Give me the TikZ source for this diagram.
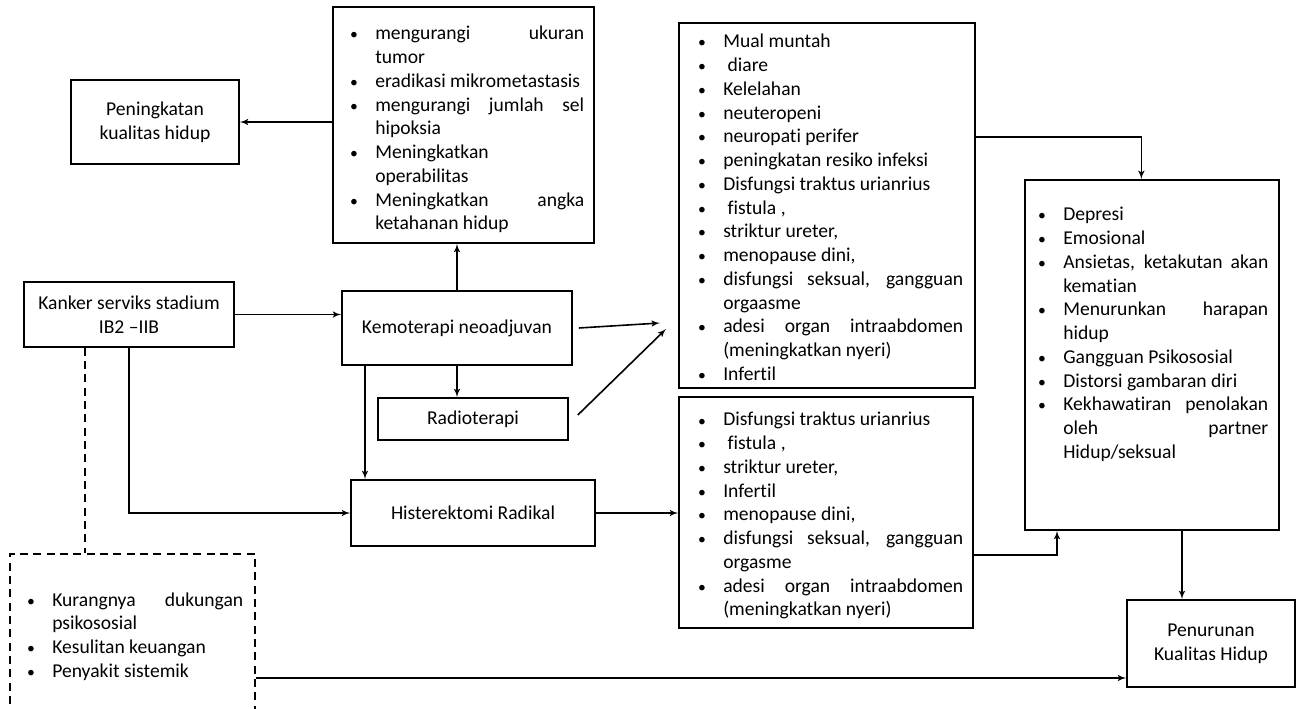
\documentclass[tikz,border=0pt]{standalone}
\usepackage{fontspec}
\setmainfont{Carlito}[Ligatures=NoCommon]
\usepackage{tikz}
\usetikzlibrary{arrows}

\newcommand{\dotlabel}{\makebox[0pt][c]{\scalebox{0.8}{\textbullet}}}
\newenvironment{blist}{\begin{list}{\dotlabel}{%
  \setlength{\leftmargin}{24pt}\setlength{\labelsep}{16pt}%
  \setlength{\labelwidth}{0pt}\setlength{\itemsep}{0pt}%
  \setlength{\parsep}{0pt}\setlength{\topsep}{0pt}%
  \setlength{\partopsep}{0pt}}}{\end{list}}
\newcommand{\boxfont}{\fontsize{14.7}{17.8}\selectfont\hyphenpenalty=10000\tolerance=10000\hbadness=10000}

\begin{document}
\begin{tikzpicture}[x=0.75pt,y=-0.75pt]
\tikzset{box/.style = {shape=rectangle,draw,line width=1.2pt,align=center,font=\boxfont}}
\tikzset{items/.style = {anchor=north west,inner sep=0pt,align=justify,font=\boxfont}}
\tikzset{edge/.style = {->,> = latex',line width=1.2pt}}
\tikzset{link/.style = {-,line width=1.2pt,dash pattern=on 6pt off 4pt}}
\useasboundingbox (0,0) rectangle (1300,709);
\clip (0,0) rectangle (1300,709);
% boxes
\node[box,minimum width=126pt,minimum height=63pt] (pkh) at (155,122) {Peningkatan\\kualitas hidup};
\node[box,minimum width=195.75pt,minimum height=177pt] (ben) at (463.5,125) {};
\node[box,minimum width=222pt,minimum height=273.75pt] (se1) at (827,205.5) {};
\node[box,minimum width=190.5pt,minimum height=262.5pt] (psy) at (1152,355) {};
\node[box,minimum width=157.5pt,minimum height=48.75pt] (kank) at (129,314.5) {Kanker serviks stadium\\IB2 –IIB};
\node[box,minimum width=172.5pt,minimum height=55.5pt] (kemo) at (457,328) {Kemoterapi neoadjuvan};
\node[box,minimum width=142.5pt,minimum height=31.5pt] (radio) at (473,419) {Radioterapi};
\node[box,minimum width=183pt,minimum height=49.5pt] (hist) at (473,513) {Histerektomi Radikal};
\node[box,minimum width=220.5pt,minimum height=173.25pt] (se2) at (826,512.5) {};
\node[box,dash pattern=on 6pt off 4pt,minimum width=183.75pt,minimum height=186pt] (risk) at (132.5,678) {};
\node[box,minimum width=126pt,minimum height=65.25pt] (pen) at (1211,643.5) {Penurunan\\Kualitas Hidup};
% lists
\node[items,text width=180.75pt] (benlist) at (343,16) {\begin{blist}
\item mengurangi ukuran\linebreak tumor
\item eradikasi mikrometastasis
\item mengurangi jumlah sel\linebreak hipoksia
\item Meningkatkan\newline operabilitas
\item Meningkatkan angka\linebreak ketahanan hidup
\end{blist}};
\node[items,text width=204pt] (se1list) at (691,24) {\begin{blist}
\item Mual muntah
\item \ diare
\item Kelelahan
\item neuteropeni
\item neuropati perifer
\item peningkatan resiko infeksi
\item Disfungsi traktus urianrius
\item \ fistula ,
\item striktur ureter,
\item menopause dini,
\item disfungsi seksual, gangguan\linebreak orgaasme
\item adesi organ intraabdomen\linebreak (meningkatkan nyeri)
\item Infertil
\end{blist}};
\node[items,text width=204pt] (se2list) at (691,402) {\begin{blist}
\item Disfungsi traktus urianrius
\item \ fistula ,
\item striktur ureter,
\item Infertil
\item menopause dini,
\item disfungsi seksual, gangguan\linebreak orgasme
\item adesi organ intraabdomen\linebreak (meningkatkan nyeri)
\end{blist}};
\node[items,text width=177.75pt] (psylist) at (1031,197) {\begin{blist}
\item Depresi
\item Emosional
\item Ansietas, ketakutan akan\linebreak kematian
\item Menurunkan harapan\linebreak hidup
\item Gangguan Psikososial
\item Distorsi gambaran diri
\item Kekhawatiran penolakan\linebreak oleh partner\linebreak Hidup/seksual
\end{blist}};
\node[items,text width=167.25pt] (risklist) at (20,582) {\begin{blist}
\item Kurangnya dukungan\linebreak psikososial
\item Kesulitan keuangan
\item Penyakit sistemik
\end{blist}};
\coordinate (hitA) at (660,323);
\coordinate (hitB) at (666,329);
% edges
\draw[edge] (ben.west |- pkh.east) -- (pkh.east);
\draw[edge] (kemo.north) -- (kemo.north |- ben.south);
\draw[edge] (kemo.south) -- (kemo.south |- radio.north);
\draw[edge] ([xshift=-69pt]kemo.south) -- ([xshift=-69pt]kemo.south |- hist.north);
\draw[edge] (kank.east) -- (kank.east -| kemo.west);
\draw[edge] (kank.south) |- (hist.west);
\draw[link] ([xshift=-33pt]kank.south) -- ([xshift=-33pt]kank.south |- risk.north);
\draw[edge] ([xshift=4.5pt]kemo.east) -- (hitA);
\draw[edge] ([xshift=6.75pt,yshift=3pt]radio.east) -- (hitB);
\draw[edge] (se1.east |- 0,137) -| ([xshift=-8pt]psy.north);
\draw[edge] (hist.east) -- (hist.east -| se2.west);
\draw[edge] (se2.east |- 0,555) -| ([xshift=-71.25pt]psy.south);
\draw[edge] ([xshift=22.5pt]psy.south) -- ([xshift=22.5pt]psy.south |- pen.north);
\draw[edge] (risk.east) -- (risk.east -| pen.west);
\end{tikzpicture}
\end{document}
